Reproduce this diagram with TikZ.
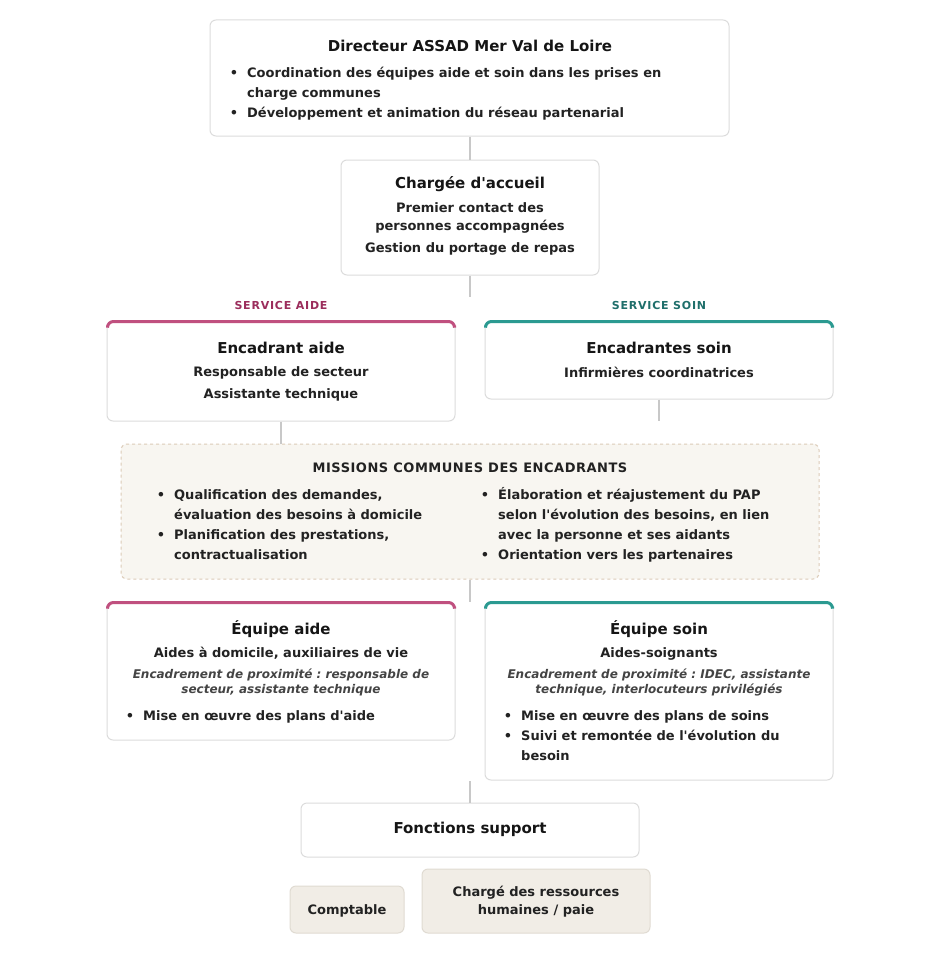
\documentclass[tikz,border=0pt]{standalone}
\usepackage{fontspec}
\setmainfont{DejaVu Sans}
\newfontfamily\espace[LetterSpace=4]{DejaVu Sans}
\newfontfamily\espacelarge[LetterSpace=7]{DejaVu Sans}
\usetikzlibrary{positioning}
\frenchspacing

\definecolor{bord}{HTML}{DCDCDC}
\definecolor{trait}{HTML}{C8C8C8}
\definecolor{encre}{HTML}{151515}
\definecolor{encredeux}{HTML}{222222}
\definecolor{gris}{HTML}{444444}
\definecolor{rose}{HTML}{C0507F}
\definecolor{sarcelle}{HTML}{2B9A91}
\definecolor{roseF}{HTML}{9B2D5C}
\definecolor{sarcelleF}{HTML}{1F6F6B}
\definecolor{creme}{HTML}{F8F6F1}
\definecolor{cremebord}{HTML}{DCCBB8}
\definecolor{sable}{HTML}{F1EDE6}
\definecolor{sablebord}{HTML}{E0DBD2}

\newcommand\puce{\leavevmode\llap{\textbullet\hspace{9pt}}}
\newcommand\apo{\textquotesingle}

\tikzset{
	boite/.style={draw=bord, line width=1pt, rounded corners=6pt, fill=white, inner sep=0pt},
	titre/.style={font=\fontsize{15}{20}\selectfont\bfseries, text=encre, inner sep=0pt},
	corps/.style={font=\fontsize{13}{20}\selectfont\bfseries, text=encredeux, inner sep=0pt},
	note/.style={font=\fontsize{12}{15}\selectfont\bfseries\itshape, text=gris, inner sep=0pt, align=center},
	service/.style={font=\fontsize{11}{13}\selectfont\bfseries\espacelarge, inner sep=0pt},
	hautA/.style={draw=rose, line width=3pt, rounded corners=6pt},
	hautS/.style={draw=sarcelle, line width=3pt, rounded corners=6pt},
	lien/.style={draw=trait, line width=1.5pt},
}

\begin{document}
\begin{tikzpicture}[x=1pt,y=-1pt]
	\useasboundingbox[fill=white] (0,0) rectangle (940,955);

	% cadres
	\node[boite, minimum width=519pt, minimum height=116pt] (dir) at (469.5,78) {};
	\node[boite, minimum width=258pt, minimum height=115pt] (acc) at (470,217.5) {};
	\node[boite, minimum width=348pt, minimum height=100pt] (encA) at (281,371) {};
	\node[boite, minimum width=348pt, minimum height=78pt] (encS) at (659,360) {};
	\node[boite, draw=cremebord, fill=creme, dashed, minimum width=698pt, minimum height=135pt] (mis) at (470,511.5) {};
	\node[boite, minimum width=348pt, minimum height=138pt] (eqA) at (281,671) {};
	\node[boite, minimum width=348pt, minimum height=178pt] (eqS) at (659,691) {};
	\node[boite, minimum width=338pt, minimum height=54pt] (fonc) at (470,830) {};
	\node[boite, draw=sablebord, fill=sable, minimum width=114pt, minimum height=47pt] (compt) at (347,909.5) {};
	\node[boite, draw=sablebord, fill=sable, minimum width=228pt, minimum height=64pt] (rh) at (536,901) {};

	\foreach \b in {encA,eqA}
		\draw[hautA] ([xshift=1pt,yshift=-5pt]\b.north west) -- ([xshift=1pt,yshift=-1pt]\b.north west) -- ([xshift=-1pt,yshift=-1pt]\b.north east) -- ([xshift=-1pt,yshift=-5pt]\b.north east);
	\foreach \b in {encS,eqS}
		\draw[hautS] ([xshift=1pt,yshift=-5pt]\b.north west) -- ([xshift=1pt,yshift=-1pt]\b.north west) -- ([xshift=-1pt,yshift=-1pt]\b.north east) -- ([xshift=-1pt,yshift=-5pt]\b.north east);

	% liaisons
	\coordinate (finAcc) at (470,297);
	\coordinate (finS) at (659,421);
	\coordinate (finMis) at (470,602);
	\coordinate (debSup) at (470,781);
	\draw[lien] (dir.south -| acc.north) -- (acc.north);
	\draw[lien] (acc.south) -- (finAcc);
	\draw[lien] (encA.south) -- (encA.south |- mis.north);
	\draw[lien] (encS.south) -- (finS);
	\draw[lien] (mis.south) -- (finMis);
	\draw[lien] (debSup) -- (fonc.north);

	% textes
	\node[titre] (dirT) at (470,45.5) {Directeur ASSAD Mer Val de Loire};
	\node[corps, anchor=north west, align=left] (dirL) at (247,66.5) {\puce Coordination des équipes aide et soin dans les prises en\\ charge communes\\ \puce Développement et animation du réseau partenarial};

	\node[titre] (accT) at (470,184.5) {Chargée d\apo accueil};
	\node[corps, font=\fontsize{13}{18}\selectfont\bfseries, align=center] (accA) at (470,218) {Premier contact des\\ personnes accompagnées};
	\node[corps] (accB) at (470,248.5) {Gestion du portage de repas};

	\node[service, text=roseF] (servA) at (281,305) {SERVICE AIDE};
	\node[service, text=sarcelleF] (servS) at (659,305) {SERVICE SOIN};

	\node[titre] (encAT) at (281,348) {Encadrant aide};
	\node[corps, font=\fontsize{13}{22}\selectfont\bfseries, align=center] (encAL) at (281,384) {Responsable de secteur\\ Assistante technique};
	\node[titre] (encST) at (659,348) {Encadrantes soin};
	\node[corps] (encSL) at (659,372.5) {Infirmières coordinatrices};

	\node[corps, font=\fontsize{13}{20}\selectfont\bfseries\espace] (misT) at (470,468) {MISSIONS COMMUNES DES ENCADRANTS};
	\node[corps, anchor=north west, align=left] (misG) at (174,489) {\puce Qualification des demandes,\\ évaluation des besoins à domicile\\ \puce Planification des prestations,\\ contractualisation};
	\node[corps, anchor=north west, align=left] (misD) at (498,487) {\puce Élaboration et réajustement du PAP\\ selon l\apo évolution des besoins, en lien\\ avec la personne et ses aidants\\ \puce Orientation vers les partenaires};

	\node[titre] (eqAT) at (281,629) {Équipe aide};
	\node[corps] (eqAL) at (281,653.5) {Aides à domicile, auxiliaires de vie};
	\node[note] (eqAN) at (281,682.5) {Encadrement de proximité : responsable de\\ secteur, assistante technique};
	\node[corps, anchor=north west, align=left] (eqAP) at (143,710) {\puce Mise en œuvre des plans d\apo aide};

	\node[titre] (eqST) at (659,629) {Équipe soin};
	\node[corps] (eqSL) at (659,653.5) {Aides-soignants};
	\node[note] (eqSN) at (659,682.5) {Encadrement de proximité : IDEC, assistante\\ technique, interlocuteurs privilégiés};
	\node[corps, anchor=north west, align=left] (eqSP) at (521,710) {\puce Mise en œuvre des plans de soins\\ \puce Suivi et remontée de l\apo évolution du\\ besoin};

	\node[titre] (foncT) at (470,829) {Fonctions support};
	\node[corps] (comptT) at (347,911) {Comptable};
	\node[corps, font=\fontsize{13}{18}\selectfont\bfseries, align=center] (rhT) at (536,902) {Chargé des ressources\\ humaines / paie};
\end{tikzpicture}
\end{document}
